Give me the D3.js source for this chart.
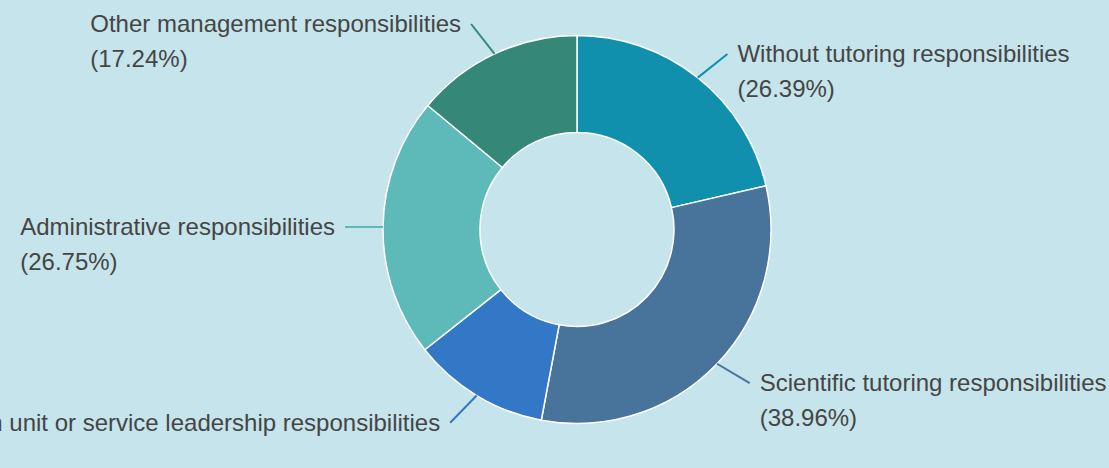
<!DOCTYPE html>
<html>
<head>
<meta charset="utf-8">
<script src="https://cdn.jsdelivr.net/npm/d3@7"></script>
<style>
  html, body { margin: 0; padding: 0; background: #c5e4eb; }
  svg { display: block; }
  text { font-family: "Liberation Sans", Arial, sans-serif; }
</style>
</head>
<body>
<svg id="chart" width="1109" height="468"></svg>
<script>
// Responsibilities held (share of respondents, %)
const categories = [
  "Without tutoring responsibilities",
  "Scientific tutoring responsibilities",
  "Research unit or service leadership responsibilities",
  "Administrative responsibilities",
  "Other management responsibilities"
];
const values = [26.39, 38.96, 14.09, 26.75, 17.24];
const colors = ["#1190ae", "#48739b", "#3278c7", "#5dbab8", "#358878"];

const width = 1109, height = 468;
const cx = 577, cy = 229.5;
const outerR = 194, innerR = 97;
const lineLen = 38, tilt = 13 * Math.PI / 180;
const fontSize = 24, lineGap = 35, labelGap = 10;

const svg = d3.select("#chart");
const data = categories.map((c, i) => ({ name: c, value: values[i], color: colors[i] }));

const pie = d3.pie().sort(null).value(d => d.value);
const arcs = pie(data);
const arc = d3.arc().innerRadius(innerR).outerRadius(outerR);

const g = svg.append("g").attr("transform", `translate(${cx},${cy})`);

g.selectAll("path.slice")
  .data(arcs)
  .join("path")
  .attr("class", "slice")
  .attr("d", arc)
  .attr("fill", d => d.data.color)
  .attr("stroke", "#ffffff")
  .attr("stroke-width", 1.5)
  .attr("stroke-linejoin", "round");

// Leader lines leave the outer edge at each slice's mid-angle,
// leaning a little toward the horizontal.
function polar(r, a) { return [r * Math.sin(a), -r * Math.cos(a)]; }

arcs.forEach(d => {
  const mid = (d.startAngle + d.endAngle) / 2;
  const right = Math.sin(mid) >= 0;
  const target = right ? Math.PI / 2 : 3 * Math.PI / 2;
  const diff = target - mid;
  const a = mid + Math.sign(diff) * Math.min(Math.abs(diff), tilt);
  const p0 = polar(outerR, mid);
  const p1 = [p0[0] + lineLen * Math.sin(a), p0[1] - lineLen * Math.cos(a)];

  g.append("path")
    .attr("d", d3.line()([p0, p1]))
    .attr("fill", "none")
    .attr("stroke", d.data.color)
    .attr("stroke-width", 2);

  const lines = [d.data.name, `(${d3.format(".2f")(d.data.value)}%)`];
  const label = g.append("g");
  const texts = label.selectAll("text")
    .data(lines)
    .join("text")
    .attr("font-size", fontSize)
    .attr("fill", "#454545")
    .attr("dy", (t, i) => i * lineGap)
    .text(t => t);

  const w = d3.max(texts.nodes(), n => n.getComputedTextLength());
  const x = right ? p1[0] + labelGap : p1[0] - labelGap - w;
  let y = p1[1] + 8;
  // keep the first line inside the frame
  y = Math.max(y, 28 - cy);
  texts.attr("x", x).attr("y", y);
});
</script>
</body>
</html>
